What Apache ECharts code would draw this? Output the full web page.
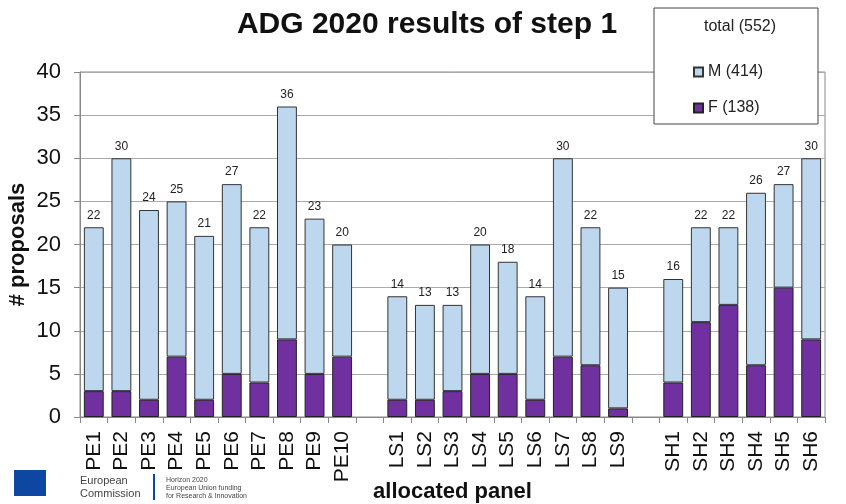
<!DOCTYPE html>
<html>
<head>
<meta charset="utf-8">
<script src="https://cdn.jsdelivr.net/npm/echarts@6/dist/echarts.min.js"></script>
<style>html,body{margin:0;padding:0;background:#fff;}#c{width:846px;height:504px;}</style>
</head>
<body>
<div id="c"></div>
<script>
const categories = ['PE1','PE2','PE3','PE4','PE5','PE6','PE7','PE8','PE9','PE10','',
  'LS1','LS2','LS3','LS4','LS5','LS6','LS7','LS8','LS9','',
  'SH1','SH2','SH3','SH4','SH5','SH6'];
const totals = [22,30,24,25,21,27,22,36,23,20,null,
  14,13,13,20,18,14,30,22,15,null,
  16,22,22,26,27,30];
const femaleValues = [3,3,2,7,2,5,4,9,5,7,null,
  2,2,3,5,5,2,7,6,1,null,
  4,11,13,6,15,9];
const maleValues = totals.map((t,i)=> t==null ? null : t - femaleValues[i]);
const yTicks = {min:0, max:40, interval:5};

const sum = a => a.reduce((s,v)=>s+(v||0),0);
const sumM = sum(maleValues), sumF = sum(femaleValues), sumT = sum(totals);
const FONT = 'Liberation Sans, Arial, sans-serif';

const chart = echarts.init(document.getElementById('c'), null, {renderer:'canvas'});
chart.setOption({
  animation:false,
  backgroundColor:'#fff',
  title:{text:'ADG 2020 results of step 1', left:422, textAlign:'center', top:5,
    textStyle:{fontFamily:FONT, fontSize:30, fontWeight:'bold', color:'#111'}},
  grid:{left:80, right:21, top:72, bottom:87, show:true, borderColor:'#888', borderWidth:1,
    containLabel:false, outerBoundsMode:'none'},
  legend:{data:['M','F'], orient:'vertical', left:688, top:59, itemWidth:9, itemHeight:9,
    itemGap:20, icon:'rect', z:20,
    formatter: n => n==='M' ? 'M ('+sumM+')' : 'F ('+sumF+')',
    textStyle:{fontFamily:FONT, fontSize:16, color:'#222'}},
  graphic:[
    {type:'rect', z:15, shape:{x:654, y:8, width:164, height:116}, style:{fill:'#fff', stroke:'#444', lineWidth:1}},
    {type:'text', z:16, left:704, top:19, style:{text:'total ('+sumT+')', font:'16px '+FONT, fill:'#222'}},
    {type:'rect', z:5, shape:{x:14, y:470, width:32, height:26}, style:{fill:'#0e47a1'}},
    {type:'text', z:5, left:80, top:474, style:{text:'European\nCommission', font:'11px '+FONT, fill:'#444', lineHeight:13}},
    {type:'rect', z:5, shape:{x:153, y:474, width:2, height:26}, style:{fill:'#0e47a1'}},
    {type:'text', z:5, left:166, top:476, style:{text:'Horizon 2020\nEuropean Union funding\nfor Research & Innovation', font:'7px '+FONT, fill:'#444', lineHeight:8}}
  ],
  xAxis:{type:'category', data:categories,
    name:'allocated panel', nameLocation:'middle', nameGap:64, nameMoveOverlap:false,
    nameTextStyle:{fontFamily:FONT, fontSize:22, fontWeight:'bold', color:'#111'},
    axisLine:{lineStyle:{color:'#888'}}, axisTick:{show:true, length:6, lineStyle:{color:'#888'}},
    axisLabel:{rotate:90, interval:0, margin:14, fontFamily:FONT, fontSize:21, color:'#111'}},
  yAxis:{type:'value', min:yTicks.min, max:yTicks.max, interval:yTicks.interval,
    name:'# proposals', nameLocation:'middle', nameGap:51, nameMoveOverlap:false,
    nameTextStyle:{fontFamily:FONT, fontSize:22, fontWeight:'bold', color:'#111'},
    axisLine:{show:true, lineStyle:{color:'#888'}}, axisTick:{show:true, length:6, lineStyle:{color:'#888'}},
    splitLine:{lineStyle:{color:'#aaa'}},
    axisLabel:{fontFamily:FONT, fontSize:22, color:'#111', margin:19}},
  series:[
    {name:'F', type:'bar', stack:'s', data:femaleValues, barCategoryGap:'28%',
      itemStyle:{color:'#7030a0', borderColor:'#222', borderWidth:1}},
    {name:'M', type:'bar', stack:'s', data:maleValues, barCategoryGap:'28%',
      itemStyle:{color:'#bdd7ee', borderColor:'#333', borderWidth:1},
      label:{show:true, position:'top', distance:6, fontFamily:FONT, fontSize:12, color:'#222',
        formatter: p => totals[p.dataIndex]}}
  ]
});
</script>
</body>
</html>
